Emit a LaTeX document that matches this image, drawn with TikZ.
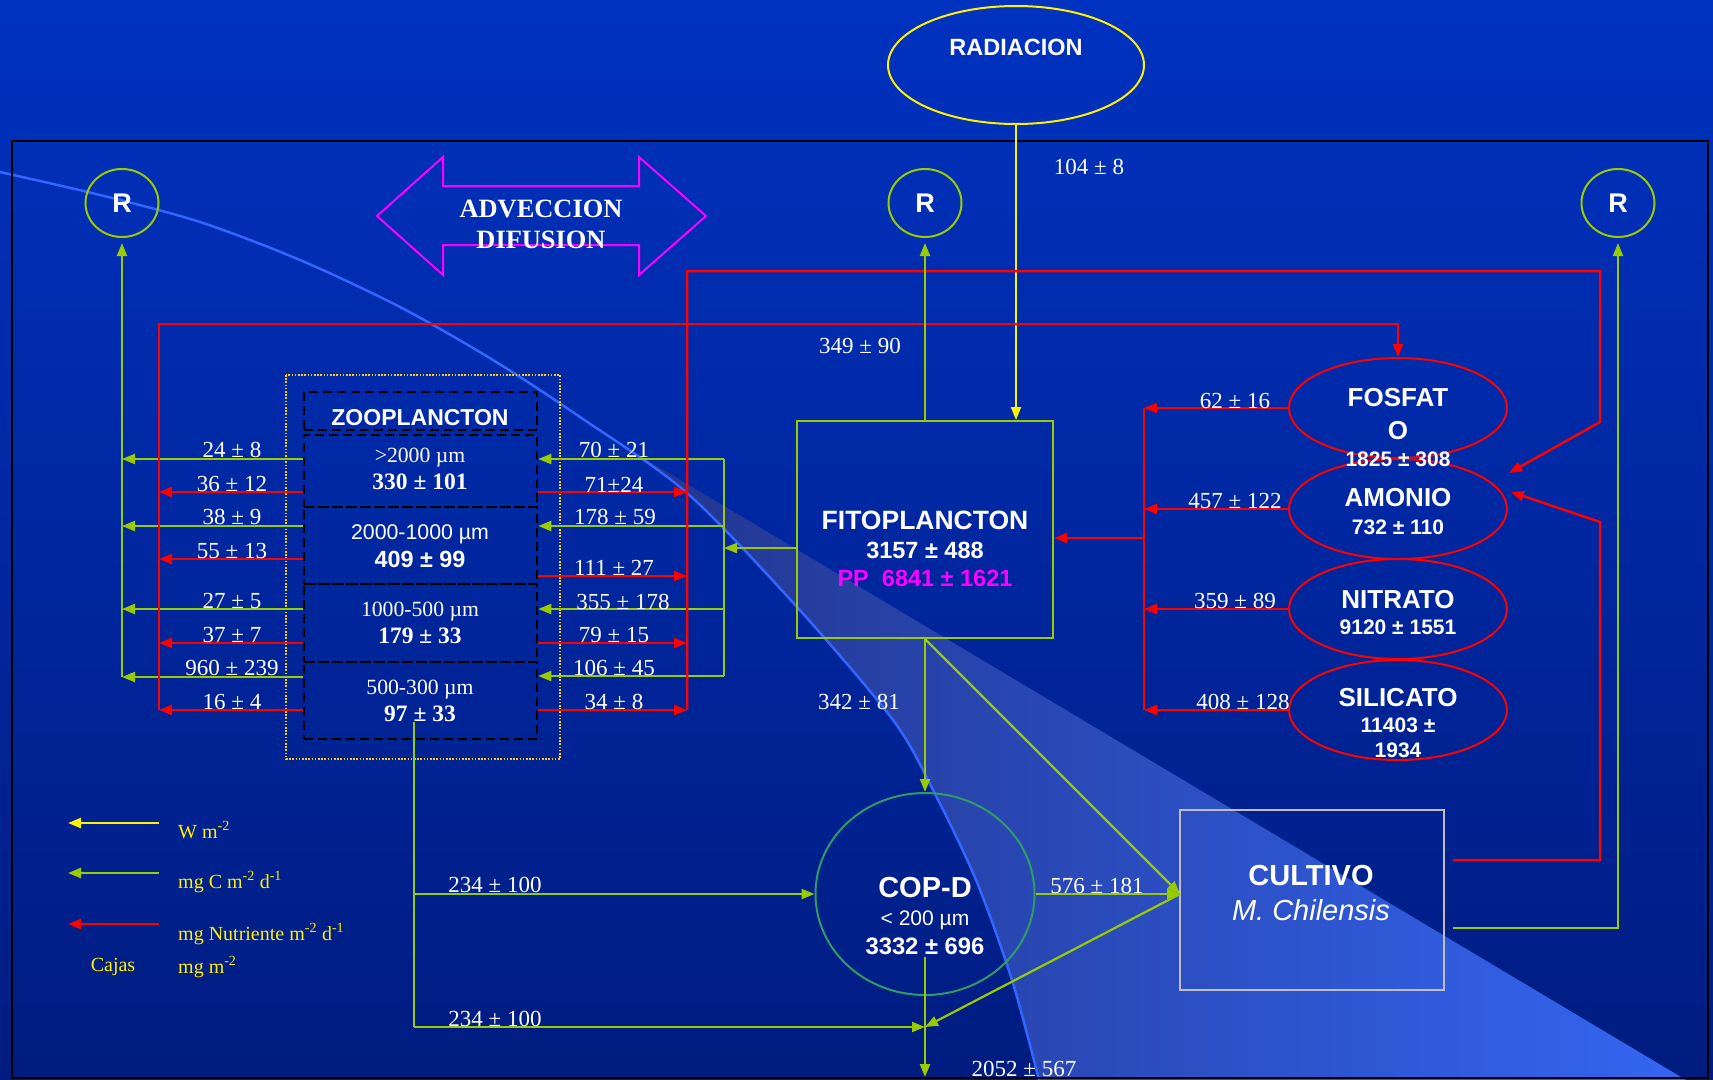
\documentclass[tikz,border=0pt]{standalone}
\usepackage{fontspec}
\setmainfont{Liberation Serif}
\setsansfont{Liberation Sans}
\usetikzlibrary{arrows.meta,shapes.geometric}
\definecolor{bgtop}{RGB}{0,50,192}
\definecolor{bgbot}{RGB}{0,28,128}
\definecolor{wedgeL}{RGB}{34,52,140}
\definecolor{wedgeR}{RGB}{52,102,242}
\definecolor{curveblue}{RGB}{51,102,255}
\definecolor{limeg}{RGB}{153,204,0}
\definecolor{copgreen}{RGB}{51,153,102}
\definecolor{dotbox}{RGB}{255,204,0}
\definecolor{cultbox}{RGB}{190,190,200}
\definecolor{magen}{RGB}{255,0,255}
\begin{document}
\begin{tikzpicture}[x=1pt,y=-1pt,
  tipend/.style={-{Triangle[length=13pt,width=10pt]}},
  garrow/.style={limeg,line width=2.2pt,tipend},
  gline/.style={limeg,line width=2.2pt},
  rarrow/.style={red,line width=2.5pt,tipend},
  rline/.style={red,line width=2.5pt},
  yarrow/.style={yellow,line width=2pt,tipend},
  lbl/.style={text=white,font=\fontsize{23}{23}\selectfont,inner sep=0pt,text depth=0pt},
  sfb/.style={text=white,font=\fontsize{#1}{#1}\sffamily\bfseries\selectfont,inner sep=0pt,text depth=0pt},
  sfr/.style={text=white,font=\fontsize{#1}{#1}\sffamily\selectfont,inner sep=0pt,text depth=0pt},
  srb/.style={text=white,font=\fontsize{#1}{#1}\bfseries\selectfont,inner sep=0pt,text depth=0pt},
  srr/.style={text=white,font=\fontsize{#1}{#1}\selectfont,inner sep=0pt,text depth=0pt},
  legt/.style={text=yellow,font=\fontsize{20}{20}\selectfont,inner sep=0pt,text depth=0pt},
  rcirc/.style={ellipse,draw=limeg,line width=2pt,minimum width=73pt,minimum height=68pt,inner sep=0pt},
  nutr/.style={ellipse,draw=red,line width=2pt,minimum width=218pt,minimum height=100pt,inner sep=0pt},
  zbox/.style={draw=black,line width=2.5pt,dash pattern=on 9pt off 5pt,minimum width=233pt,inner sep=0pt}
]
\useasboundingbox (0,0) rectangle (1713,1079);
% background
\shade[top color=bgtop,bottom color=bgbot] (0,0) rectangle (1713,1079);
% light wedge
\shade[left color=wedgeL,right color=wedgeR] plot[smooth] coordinates {(610,438) (687,493) (797,607) (893,720) (933,790) (976,880) (1012,980) (1039,1080)} -- (1686,1080) -- cycle;
% curve
\draw[curveblue,line width=2.5pt] plot[smooth] coordinates {(0,172) (100,195) (200,222) (300,260) (400,307) (493,360) (580,417) (687,493) (797,607) (893,720) (933,790) (976,880) (1012,980) (1039,1080)};
% frame
\draw[black,line width=2.5pt] (12,141) rectangle (1708,1078);

% RADIACION
\node[ellipse,draw=yellow,line width=2pt,minimum width=256pt,minimum height=118pt,inner sep=0pt] (rad) at (1016,65) {};
\node[sfb=23.5] (radt) at (1016,47) {RADIACION};

% R circles
\node[rcirc,sfb=27] (R1) at (122,203) {R};
\node[rcirc,sfb=27] (R2) at (925,203) {R};
\node[rcirc,sfb=27] (R3) at (1618,203) {R};

% ADVECCION DIFUSION
\draw[magen,line width=2pt,line join=miter] (377,216) -- (443,157) -- (443,186) -- (639,186) -- (639,157) -- (706,216) -- (639,275) -- (639,245) -- (443,245) -- (443,275) -- cycle;
\node[srb=26.4] (adv) at (541,209) {ADVECCION};
\node[srb=26.4] (dif) at (541,240) {DIFUSION};

% FITOPLANCTON
\node[draw=limeg,line width=2pt,minimum width=256pt,minimum height=217pt,inner sep=0pt] (fito) at (925,529.5) {};
\node[sfb=26.5] (fitot) at (925,520) {FITOPLANCTON};
\node[sfb=23.5] (fitov) at (925,550) {3157 ± 488};
\node[sfb=23.5,text=magen] (fitopp) at (925,578) {PP\ \ 6841 ± 1621};

% nutrients
\node[nutr] (fos) at (1398,408) {};
\node[nutr] (amo) at (1398,509) {};
\node[nutr] (nit) at (1398,609) {};
\node[nutr] (sil) at (1398,710) {};
\node[sfb=26] (fost1) at (1398,397) {FOSFAT};
\node[sfb=26] (fost2) at (1398,430) {O};
\node[sfb=21] (fosv) at (1398,459) {1825 ± 308};
\node[sfb=26] (amot) at (1398,497) {AMONIO};
\node[sfb=21] (amov) at (1398,527) {732 ± 110};
\node[sfb=26] (nitt) at (1398,599) {NITRATO};
\node[sfb=21] (nitv) at (1398,627) {9120 ± 1551};
\node[sfb=26] (silt) at (1398,697) {SILICATO};
\node[sfb=21] (silv1) at (1398,725) {11403 ±};
\node[sfb=21] (silv2) at (1398,750) {1934};

% zooplancton
\draw[dotbox,line width=1.6pt,dash pattern=on 1.6pt off 1.6pt] (286,375) rectangle (560,759);
\node[zbox,minimum height=38pt] (z0) at (420.5,411) {};
\node[zbox,minimum height=72pt] (z1) at (420.5,471) {};
\node[zbox,minimum height=77pt] (z2) at (420.5,545.5) {};
\node[zbox,minimum height=78pt] (z3) at (420.5,623) {};
\node[zbox,minimum height=77pt] (z4) at (420.5,700.5) {};
\node[sfb=23] (zt) at (420,417) {ZOOPLANCTON};
\node[srr=21.7] (z1a) at (420,455) {>2000 µm};
\node[srb=23.5] (z1b) at (420,482) {330 ± 101};
\node[sfr=21.3] (z2a) at (420,532) {2000-1000 µm};
\node[sfb=23.4] (z2b) at (420,559) {409 ± 99};
\node[srr=21.7] (z3a) at (420,609) {1000-500 µm};
\node[srb=23.5] (z3b) at (420,636) {179 ± 33};
\node[srr=21.7] (z4a) at (420,687) {500-300 µm};
\node[srb=23.5] (z4b) at (420,714) {97 ± 33};

% COP-D
\node[ellipse,draw=copgreen,line width=2pt,minimum width=219pt,minimum height=202pt,inner sep=0pt] (cop) at (925,894) {};
\node[sfb=29] (copt) at (925,887) {COP-D};
\node[sfr=21] (copa) at (925,918) {< 200 µm};
\node[sfb=23.8] (copv) at (925,946) {3332 ± 696};

% CULTIVO
\node[draw=cultbox,line width=2pt,minimum width=264pt,minimum height=180pt,inner sep=0pt] (cult) at (1312,900) {};
\node[sfb=29] (cultt) at (1311,875) {CULTIVO};
\node[text=white,font=\fontsize{29}{29}\sffamily\itshape\selectfont,inner sep=0pt,text depth=0pt] (cultm) at (1311,910) {M. Chilensis};

% coordinates
\coordinate (gR) at (724,548);
\coordinate (nx) at (1144,538);
\coordinate (amin1) at (1509,473);
\coordinate (amin2) at (1511,492);
\coordinate (c1) at (1453,860);
\coordinate (c2) at (1453,928);
\coordinate (zb) at (414,722);
\coordinate (zj) at (414,1027);
\coordinate (cj) at (925,1027);
\coordinate (cb) at (925,957);
\coordinate (cw) at (1180,894);

% radiation
\draw[yarrow] (rad.south) -- (rad.south |- fito.north);
\node[lbl] (l104) at (1089,167) {104 ± 8};

% zoo left arrows
\draw[garrow] (z1.west |- 0,459) -- (R1 |- 0,459);
\draw[garrow] (z2.west |- 0,526) -- (R1 |- 0,526);
\draw[garrow] (z3.west |- 0,609) -- (R1 |- 0,609);
\draw[garrow] (z4.west |- 0,677) -- (R1 |- 0,677);
\draw[garrow] (R1 |- 0,677) -- ([yshift=-5pt]R1.south);
\draw[rarrow] (z1.west |- 0,492) -- (159,492);
\draw[rarrow] (z2.west |- 0,559) -- (159,559);
\draw[rarrow] (z3.west |- 0,643) -- (159,643);
\draw[rarrow] (z4.west |- 0,710) -- (159,710);
\draw[rarrow] (159,710) -- (159,324) -- (fos.north |- 0,324) -- (fos.north);
\node[lbl] at (232,450) {24 ± 8};
\node[lbl] at (232,484) {36 ± 12};
\node[lbl] at (232,517) {38 ± 9};
\node[lbl] at (232,551) {55 ± 13};
\node[lbl] at (232,601) {27 ± 5};
\node[lbl] at (232,635) {37 ± 7};
\node[lbl] at (232,668) {960 ± 239};
\node[lbl] at (232,702) {16 ± 4};

% zoo right arrows
\draw[garrow] (fito.west |- gR) -- (gR);
\draw[gline] (gR |- 0,459) -- (gR |- 0,676);
\draw[garrow] (gR |- 0,459) -- (z1.east |- 0,459);
\draw[garrow] (gR |- 0,526) -- (z2.east |- 0,526);
\draw[garrow] (gR |- 0,609) -- (z3.east |- 0,609);
\draw[garrow] (gR |- 0,676) -- (z4.east |- 0,676);
\draw[rarrow] (z1.east |- 0,492) -- (687,492);
\draw[rarrow] (z2.east |- 0,576) -- (687,576);
\draw[rarrow] (z3.east |- 0,643) -- (687,643);
\draw[rarrow] (z4.east |- 0,710) -- (687,710);
\draw[rarrow] (687,710) -- (687,271) -- (1600,271) -- (1600,422) -- (amin1);
\node[lbl] at (614,450) {70 ± 21};
\node[lbl] at (614,485) {71±24};
\node[lbl] at (615,517) {178 ± 59};
\node[lbl] at (614,568) {111 ± 27};
\node[lbl] at (623,602) {355 ± 178};
\node[lbl] at (614,635) {79 ± 15};
\node[lbl] at (614,668) {106 ± 45};
\node[lbl] at (614,702) {34 ± 8};

% fito to R
\draw[garrow] (fito.north) -- ([yshift=-5pt]R2.south);
\node[lbl] at (860,346) {349 ± 90};

% nutrients to fito
\draw[rarrow] (fos.west) -- (fos.west -| nx);
\draw[rarrow] (amo.west) -- (amo.west -| nx);
\draw[rarrow] (nit.west) -- (nit.west -| nx);
\draw[rarrow] (sil.west) -- (sil.west -| nx);
\draw[rline] (nx |- fos.west) -- (nx |- sil.west);
\draw[rarrow] (nx) -- (nx -| fito.east);
\node[lbl] at (1235,401) {62 ± 16};
\node[lbl] at (1235,501) {457 ± 122};
\node[lbl] at (1235,601) {359 ± 89};
\node[lbl] at (1243,702) {408 ± 128};

% cultivo returns
\draw[rarrow] (c1) -- (1600,860) -- (1600,522) -- (amin2);
\draw[garrow] (c2) -- (R3 |- c2) -- ([yshift=-5pt]R3.south);

% fito / cop / cultivo
\draw[garrow] (fito.south) -- (cop.north);
\node[lbl] at (859,702) {342 ± 81};
\draw[garrow] (fito.south) -- (cw);
\draw[garrow] (cop.east) -- (cw);
\node[lbl] at (1097,886) {576 ± 181};
\draw[garrow] (cw) -- (cj);
\draw[gline] (zb) -- (zj);
\draw[garrow] (zb |- cop.west) -- (cop.west);
\draw[garrow] (zj) -- (cj);
\node[lbl] at (495,885) {234 ± 100};
\node[lbl] at (495,1019) {234 ± 100};
\draw[garrow] (cb) -- (cb |- 0,1077);
\node[lbl] at (1024,1069) {2052 ± 567};

% legend
\coordinate (ly1) at (159,823);
\coordinate (ly2) at (159,873);
\coordinate (ly3) at (159,924);
\draw[yarrow,line width=2.5pt] (ly1) -- (ly1 -| 68,0);
\draw[garrow,line width=2.5pt] (ly2) -- (ly2 -| 68,0);
\draw[rarrow] (ly3) -- (ly3 -| 68,0);
\node[legt,anchor=west] at (178,830) {W m\textsuperscript{-2}};
\node[legt,anchor=west] at (178,880) {mg C m\textsuperscript{-2} d\textsuperscript{-1}};
\node[legt,anchor=west] at (178,932) {mg Nutriente m\textsuperscript{-2} d\textsuperscript{-1}};
\node[legt] at (113,965) {Cajas};
\node[legt,anchor=west] at (178,965) {mg m\textsuperscript{-2}};
\end{tikzpicture}
\end{document}
